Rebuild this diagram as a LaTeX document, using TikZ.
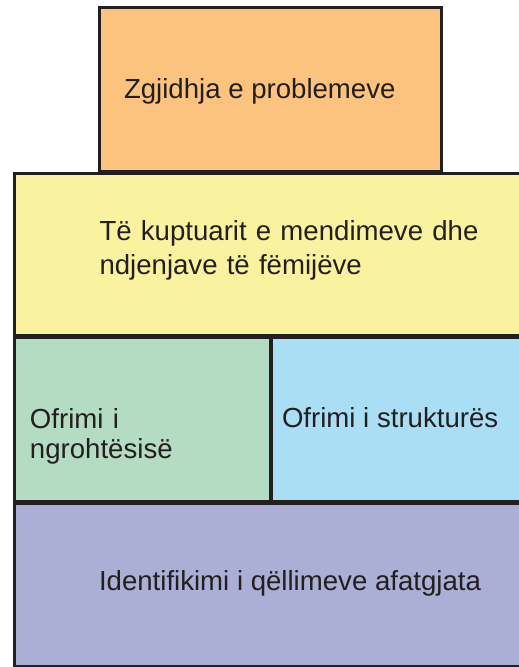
\documentclass[tikz,border=0pt]{standalone}
\usepackage{fontspec}
\setmainfont{Liberation Sans}
\definecolor{ink}{HTML}{231F20}
\definecolor{cOrange}{HTML}{FBC37D}
\definecolor{cYellow}{HTML}{F9F29F}
\definecolor{cGreen}{HTML}{B4DCC2}
\definecolor{cBlue}{HTML}{A9DEF5}
\definecolor{cPurple}{HTML}{ABAED5}
\begin{document}
\begin{tikzpicture}[x=1pt,y=-1pt,
  box/.style={draw=ink, line width=2.6pt, rectangle, inner sep=0pt, outer sep=0pt, anchor=north west},
  lbl/.style={anchor=base west, inner sep=0pt, outer sep=0pt, text=ink, align=left, font=\fontsize{27.6}{33.5}\selectfont}]
\useasboundingbox (0,0) rectangle (519,667);
\clip (0,0) rectangle (519,667);
\node[box, fill=cOrange, minimum width=342pt, minimum height=163.3pt] (top) at (99.7,7.7) {};
\node[box, fill=cYellow, minimum width=515pt, minimum height=161.5pt] (yel) at (14.7,173.5) {};
\node[box, fill=cGreen, minimum width=255.1pt, minimum height=163.8pt] (grn) at (14.7,337.5) {};
\node[box, fill=cBlue, minimum width=260pt, minimum height=163.8pt] (blu) at (272,337.5) {};
\node[box, fill=cPurple, minimum width=515pt, minimum height=162.7pt] (pur) at (14.7,503.8) {};
\node[lbl] (t1) at (124,98) {Zgjidhja e problemeve};
\node[lbl, text width=400pt] (t2) at (99.5,240.5) {Të kuptuarit e mendimeve dhe\\ndjenjave të fëmijëve};
\node[lbl, text width=230pt, font=\fontsize{27.6}{30}\selectfont] (t3) at (30,428) {Ofrimi i\\ngrohtësisë};
\node[lbl] (t4) at (282,427.5) {Ofrimi i strukturës};
\node[lbl] (t5) at (99,590.5) {Identifikimi i qëllimeve afatgjata};
\end{tikzpicture}
\end{document}
